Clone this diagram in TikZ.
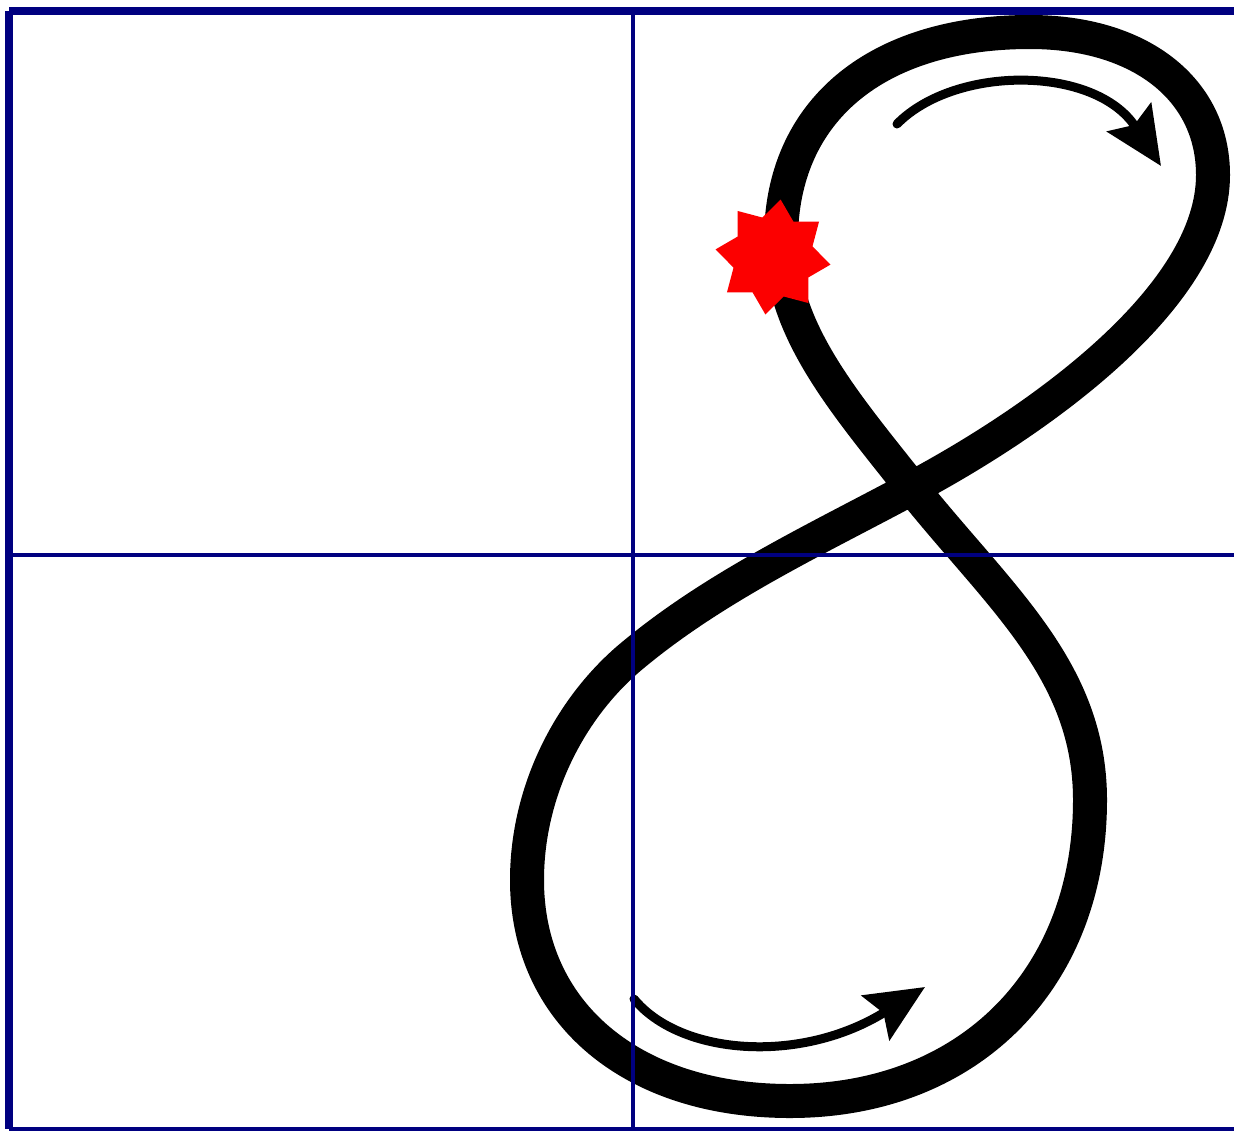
\documentclass[tikz,border=0pt]{standalone}
\usetikzlibrary{shapes.geometric,arrows.meta}
\definecolor{gridblue}{RGB}{0,0,128}
\definecolor{starred}{RGB}{252,0,0}
\tikzset{
  gridline/.style={draw=gridblue,line width=4pt},
  borderline/.style={draw=gridblue,line width=8pt},
  eightstroke/.style={draw=black,line width=34pt,line join=round},
  flowarrow/.style={draw=black,line width=9pt,line cap=round,
    -{Stealth[length=58pt,width=52pt,inset=9pt]}},
  redstar/.style={star,star points=8,star point ratio=1.42,fill=starred,
    minimum size=116pt,inner sep=0pt,shape border rotate=-7.5}
}
\begin{document}
\begin{tikzpicture}[x=1pt,y=-1pt]
\useasboundingbox[fill=white] (0,0) rectangle (1234,1130);
% key points of the figure eight
\coordinate (C) at (912,488);
\coordinate (L1) at (781,240);
\coordinate (T1) at (1030,32);
\coordinate (R1) at (1213,175);
\coordinate (M) at (633,655);
\coordinate (L2) at (527,880);
\coordinate (B2) at (790,1101);
\coordinate (R2) at (1090,800);
\draw[eightstroke] (C) .. controls (844,402) and (781,330) .. (L1)
  .. controls (781,111) and (876,32) .. (T1)
  .. controls (1140,32) and (1213,89) .. (R1)
  .. controls (1213,295) and (1044,417.5) .. (C)
  .. controls (817,539) and (716,586) .. (M)
  .. controls (571,706) and (527,790) .. (L2)
  .. controls (527,1013) and (632,1101) .. (B2)
  .. controls (970,1101) and (1090,978) .. (R2)
  .. controls (1090,670) and (999,597) .. cycle;
% arrows
\coordinate (a1s) at (897,124);
\coordinate (a1e) at (1161,166);
\coordinate (a2s) at (634,999);
\coordinate (a2e) at (925,987);
\draw[flowarrow] (a1s) .. controls (955,65) and (1095,65) .. (a1e);
\draw[flowarrow] (a2s) .. controls (680,1055) and (800,1065) .. (a2e);
% grid
\coordinate (tl) at (9,11);
\coordinate (tr) at (1234,11);
\coordinate (bl) at (9,1128.5);
\coordinate (br) at (1234,1128.5);
\draw[gridline] (633,11) -- (633,1128.5);
\draw[gridline] (9,554.5) -- (1234,554.5);
\draw[gridline] (bl) -- (br);
\draw[borderline] (tl) -- (tr);
\draw[borderline] (9,11) -- (bl);
% star
\node[redstar] (st) at (773,257) {};
\end{tikzpicture}
\end{document}
